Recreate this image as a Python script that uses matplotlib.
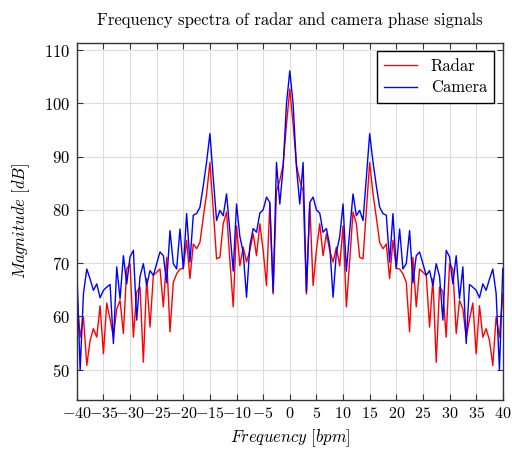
import numpy as np
import matplotlib
matplotlib.use("Agg")
import matplotlib.pyplot as plt
from matplotlib.ticker import MultipleLocator, FuncFormatter

plt.rcParams["mathtext.fontset"] = "cm"
plt.rcParams["font.family"] = ["cmr10", "DejaVu Serif"]
plt.rcParams["axes.unicode_minus"] = True

# frequency bins (bpm), 129 bins from -40 to 40
freq = np.linspace(-40, 40, 129)

# magnitude spectra in dB
radar = [
    64.3, 56.1, 59.9, 50.8, 55.5, 57.7, 56.1, 62.0, 53.0, 62.5,
    59.5, 56.1, 61.4, 63.0, 56.8, 68.9, 69.9, 56.1, 64.6, 65.5,
    51.4, 67.1, 58.0, 67.7, 68.3, 68.9, 61.8, 71.1, 57.1, 66.4,
    68.0, 68.9, 69.0, 74.3, 67.1, 73.6, 72.7, 73.9, 78.6, 83.0,
    88.9, 80.0, 70.8, 71.1, 77.4, 79.6, 70.5, 61.8, 77.0, 69.5,
    73.0, 70.2, 72.4, 75.5, 71.4, 77.4, 72.4, 65.8, 81.2, 64.2,
    83.5, 85.5, 88.5, 96.0,
    102.7,
    96.0, 88.5, 85.5, 83.5, 64.2, 81.2, 65.8, 72.4, 77.4, 71.4,
    75.5, 72.4, 70.2, 73.0, 69.5, 77.0, 61.8, 70.5, 79.6, 77.4,
    71.1, 70.8, 80.0, 88.9, 83.0, 78.6, 73.9, 72.7, 73.6, 67.1,
    74.3, 69.0, 68.9, 68.0, 66.4, 57.1, 71.1, 61.8, 68.9, 68.3,
    67.7, 58.0, 67.1, 51.4, 65.5, 64.6, 56.1, 69.9, 68.9, 56.8,
    63.0, 61.4, 56.1, 59.5, 62.5, 53.0, 62.0, 56.1, 57.7, 55.5,
    50.8, 59.9, 56.1, 64.3,
]
camera = [
    69.0, 49.9, 64.3, 68.9, 67.0, 64.9, 66.1, 63.5, 64.9, 65.5,
    66.0, 54.9, 69.3, 63.3, 71.4, 66.1, 71.2, 72.4, 59.3, 67.5,
    69.9, 65.8, 68.6, 67.7, 69.9, 72.1, 71.4, 66.3, 76.1, 69.9,
    68.9, 76.4, 69.0, 79.3, 70.2, 79.0, 79.3, 80.5, 84.5, 89.0,
    94.3, 86.0, 78.0, 79.9, 78.9, 83.0, 76.0, 68.5, 81.1, 75.0,
    72.0, 63.6, 73.3, 76.5, 75.8, 79.4, 80.0, 82.4, 81.4, 64.6,
    88.9, 81.1, 88.0, 99.9,
    106.1,
    99.9, 88.0, 81.1, 88.9, 64.6, 81.4, 82.4, 80.0, 79.4, 75.8,
    76.5, 73.3, 63.6, 72.0, 75.0, 81.1, 68.5, 76.0, 83.0, 78.9,
    79.9, 78.0, 86.0, 94.3, 89.0, 84.5, 80.5, 79.3, 79.0, 70.2,
    79.3, 69.0, 76.4, 68.9, 69.9, 76.1, 66.3, 71.4, 72.1, 69.9,
    67.7, 68.6, 65.8, 69.9, 67.5, 59.3, 72.4, 71.2, 66.1, 71.4,
    63.3, 69.3, 54.9, 66.0, 65.5, 64.9, 63.5, 66.1, 64.9, 67.0,
    68.9, 64.3, 49.9, 69.0,
]

fig = plt.figure(figsize=(5.12, 4.54), dpi=100)
ax = fig.add_axes([0.150, 0.120, 0.832, 0.785])

ax.plot(freq, radar, color="#ff0000", lw=1.0, label="Radar")
ax.plot(freq, camera, color="#0000ff", lw=1.0, label="Camera")

ax.set_xlim(-40, 40)
ax.set_ylim(44.4, 111.3)
ax.xaxis.set_major_locator(MultipleLocator(5))
ax.yaxis.set_major_locator(MultipleLocator(10))
fmt = FuncFormatter(lambda v, p: "$%d$" % round(v))
ax.xaxis.set_major_formatter(fmt)
ax.yaxis.set_major_formatter(fmt)
ax.tick_params(direction="in", top=True, right=True, length=4, width=0.8,
               color="#333333", labelsize=12, pad=5)
ax.tick_params(axis="x", labelsize=11.6)
ax.grid(True, color="#dcdcdc", lw=0.8)
ax.set_axisbelow(True)
for s in ax.spines.values():
    s.set_color("#333333")
    s.set_linewidth(1.0)

ax.set_title("Frequency spectra of radar and camera phase signals",
             fontsize=12, pad=13)
ax.set_xlabel(r"$Frequency\ [bpm]$", fontsize=12, labelpad=4)
ax.set_ylabel(r"$Magnitude\ [dB]$", fontsize=12, labelpad=8)

leg = ax.legend(loc="upper right", fontsize=12, fancybox=False,
                edgecolor="black", framealpha=1, handlelength=2.0,
                borderpad=0.45, labelspacing=0.35, borderaxespad=0.5)
leg.get_frame().set_linewidth(1.0)

fig.savefig("out.png", dpi=100)
